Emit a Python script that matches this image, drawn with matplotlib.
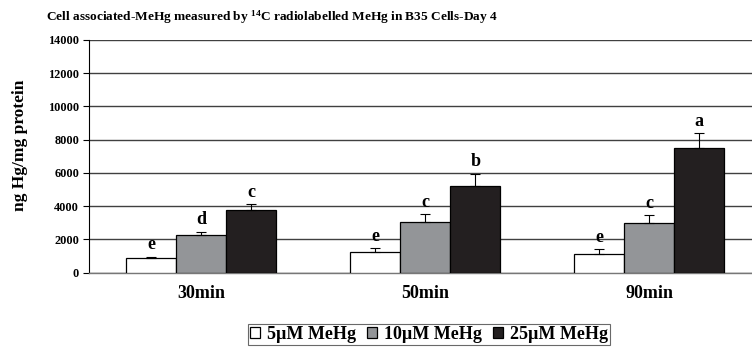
import matplotlib
matplotlib.use("Agg")
import matplotlib.pyplot as plt
import numpy as np

plt.rcParams['font.family'] = ['Liberation Serif', 'DejaVu Serif']
plt.rcParams['font.weight'] = 'bold'
plt.rcParams['mathtext.fontset'] = 'custom'
plt.rcParams['mathtext.rm'] = 'Liberation Serif:bold'
plt.rcParams['mathtext.bf'] = 'Liberation Serif:bold'
plt.rcParams['mathtext.default'] = 'bf'

categories = ["30min", "50min", "90min"]
series_names = ["5µM MeHg", "10µM MeHg", "25µM MeHg"]
means = {
    "5µM MeHg": [870, 1230, 1110],
    "10µM MeHg": [2290, 3040, 2980],
    "25µM MeHg": [3760, 5220, 7510],
}
errors = {
    "5µM MeHg": [100, 240, 300],
    "10µM MeHg": [180, 480, 480],
    "25µM MeHg": [360, 720, 890],
}
letters = {
    "5µM MeHg": ["e", "e", "e"],
    "10µM MeHg": ["d", "c", "c"],
    "25µM MeHg": ["c", "b", "a"],
}
colors = ["#ffffff", "#939598", "#231f20"]
yticks = [0, 2000, 4000, 6000, 8000, 10000, 12000, 14000]

fig = plt.figure(figsize=(7.52, 3.56), dpi=100)
ax = fig.add_axes([0.118, 0.234, 0.882, 0.654])

x = np.arange(len(categories))
w = 0.223
for i, name in enumerate(series_names):
    pos = x + (i - 1) * w
    ax.bar(pos, means[name], width=w, color=colors[i], edgecolor='black',
           linewidth=0.9, label=name, zorder=3)
    ax.errorbar(pos, means[name], yerr=[[0] * 3, errors[name]], fmt='none',
                ecolor='black', elinewidth=0.8, capsize=3.5, capthick=0.8, zorder=4)
    for p, m, e, l in zip(pos, means[name], errors[name], letters[name]):
        ax.text(p, m + e + 450, l, ha='center', va='baseline', fontsize=13,
                fontweight='bold')

ax.set_xlim(-0.502, 2.458)
ax.set_ylim(0, 14000)
ax.set_yticks(yticks)
ax.set_yticklabels([str(t) for t in yticks], fontsize=8.8, fontweight='bold')
ax.set_xticks(x)
ax.set_xticklabels(categories, fontsize=13, fontweight='bold')
ax.tick_params(axis='x', length=0, pad=9)
ax.tick_params(axis='y', length=4, width=0.8, direction='out', pad=3)
ax.yaxis.grid(True, color='#404040', linewidth=1.0, zorder=0)
ax.set_axisbelow(True)
for s in ['top', 'right']:
    ax.spines[s].set_visible(False)
ax.spines['bottom'].set_color('#777777')
ax.spines['bottom'].set_linewidth(1.0)
ax.spines['left'].set_color('black')
ax.spines['left'].set_linewidth(0.8)

ax.set_ylabel("ng Hg/mg protein", fontsize=12.5, fontweight='bold')
ax.yaxis.set_label_coords(-0.092, 0.547)

fig.text(0.362, 0.952, r"Cell associated-MeHg measured by $^{14}$C radiolabelled MeHg in B35 Cells-Day 4",
         ha='center', va='center', fontsize=9.6, fontweight='bold')

leg = ax.legend(loc='center', bbox_to_anchor=(0.5705, 0.0604), bbox_transform=fig.transFigure,
                ncol=3, frameon=True, fancybox=False, edgecolor='#444444',
                handlelength=0.55, handleheight=0.55, handletextpad=0.35,
                columnspacing=0.65, borderpad=0.12, borderaxespad=0,
                prop={'weight': 'bold', 'size': 13})
leg.get_frame().set_linewidth(0.8)

fig.savefig("out.png", dpi=100)
